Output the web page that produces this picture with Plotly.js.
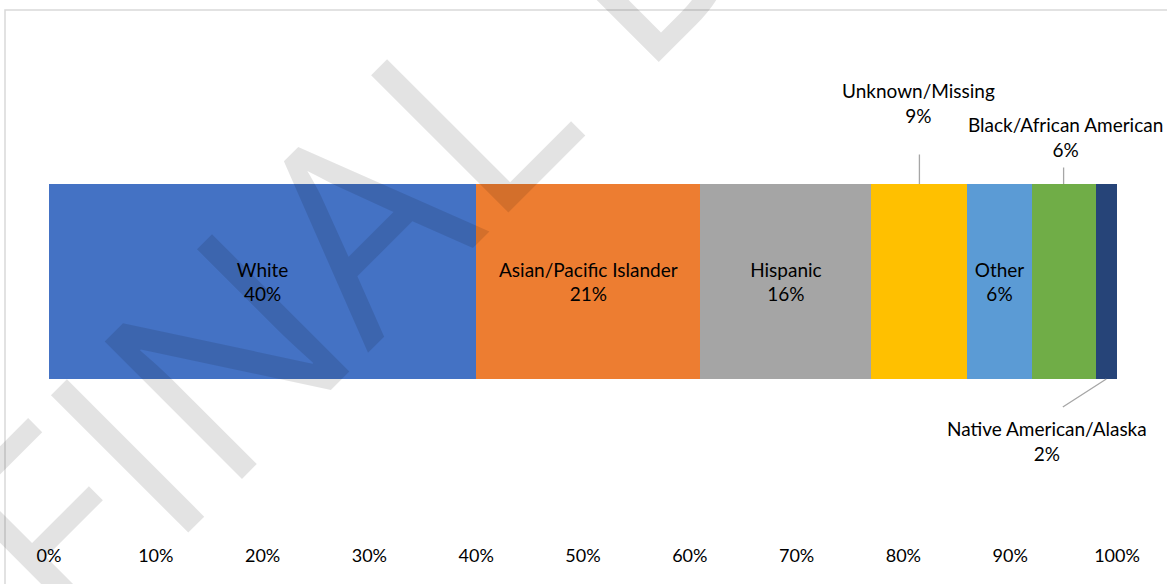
<!DOCTYPE html>
<html>
<head>
<meta charset="utf-8">
<script src="https://cdn.plot.ly/plotly-3.0.1.min.js"></script>
<style>html,body{margin:0;padding:0;background:#fff;}#chart{width:1167px;height:584px;}</style>
</head>
<body>
<div id="chart"></div>
<script>
const categories = ['White', 'Asian/Pacific Islander', 'Hispanic', 'Unknown/Missing', 'Other', 'Black/African American', 'Native American/Alaska'];
const values = [40, 21, 16, 9, 6, 6, 2];
const colors = ['#4472C4', '#ED7D31', '#A5A5A5', '#FFC000', '#5B9BD5', '#70AD47', '#264478'];
const labelInside = [true, true, true, false, true, false, false];
const tickValues = [0, 10, 20, 30, 40, 50, 60, 70, 80, 90, 100];
const watermarkText = 'FINAL DRAFT';

const FONT = 'Lato, "Open Sans", sans-serif';
const LABEL_SIZE = 19;
const BAR_W = 0.7457;
const HALF = BAR_W / 2;

const traces = [];
const mids = [];
let cum = 0;
categories.forEach((c, i) => {
  mids.push(cum + values[i] / 2);
  cum += values[i];
  traces.push({
    type: 'bar', orientation: 'h', name: c,
    x: [values[i]], y: [0], width: BAR_W,
    marker: {color: colors[i], line: {width: 0}},
    text: [labelInside[i] ? c + '<br>' + values[i] + '%' : ''],
    textposition: labelInside[i] ? 'inside' : 'none',
    insidetextanchor: 'middle', textangle: 0,
    textfont: {family: FONT, size: LABEL_SIZE, color: '#000'},
    hoverinfo: 'skip'
  });
});

const annotations = [];
// outside labels + leader lines
const outside = [
  {i: 3, side: 'top', lineAx: 0, lineAy: -31, xshift: -1, yshift: 81},
  {i: 5, side: 'top', lineAx: 0, lineAy: -18, xshift: 1.5, yshift: 47},
  {i: 6, side: 'bottom', lineAx: -45, lineAy: 29, xshift: -59, yshift: -62}
];
outside.forEach(o => {
  const yEdge = o.side === 'top' ? HALF : -HALF;
  annotations.push({
    x: mids[o.i], y: yEdge, xref: 'x', yref: 'y', text: '',
    showarrow: true, arrowhead: 0, arrowwidth: 1.3, arrowcolor: '#A6A6A6',
    ax: o.lineAx, ay: o.lineAy
  });
  annotations.push({
    x: mids[o.i], y: yEdge, xref: 'x', yref: 'y',
    text: categories[o.i] + '<br>' + values[o.i] + '%',
    showarrow: false, xanchor: 'center', yanchor: 'middle',
    xshift: o.xshift, yshift: o.yshift,
    font: {family: FONT, size: LABEL_SIZE, color: '#000'}
  });
});
// watermark
annotations.push({
  xref: 'paper', yref: 'paper', x: 0.4906, y: 1.042,
  text: watermarkText, showarrow: false, textangle: -45,
  xanchor: 'center', yanchor: 'middle',
  font: {family: '"Open Sans", sans-serif', size: 272, color: 'rgba(0,0,0,0.11)'}
});

const layout = {
  width: 1167, height: 584,
  margin: {l: 49, r: 50, t: 20, b: 41},
  paper_bgcolor: '#fff', plot_bgcolor: 'rgba(0,0,0,0)',
  barmode: 'stack', showlegend: false,
  xaxis: {
    range: [0, 100], tickvals: tickValues, ticktext: tickValues.map(v => v + '%'),
    showgrid: false, zeroline: false, showline: false, ticks: '',
    tickfont: {family: FONT, size: 18, color: '#000'}, fixedrange: true
  },
  yaxis: {range: [-1, 1], visible: false, fixedrange: true},
  annotations: annotations,
  shapes: [{
    type: 'rect', xref: 'paper', yref: 'paper',
    x0: (5 - 49) / 1068, x1: 1.2, y0: -0.3, y1: (543 - 10) / 523,
    line: {color: '#D9D9D9', width: 1.5}, fillcolor: 'rgba(0,0,0,0)', layer: 'below'
  }],
  font: {family: FONT}
};

Plotly.newPlot('chart', traces, layout, {displayModeBar: false, staticPlot: true});
</script>
</body>
</html>
